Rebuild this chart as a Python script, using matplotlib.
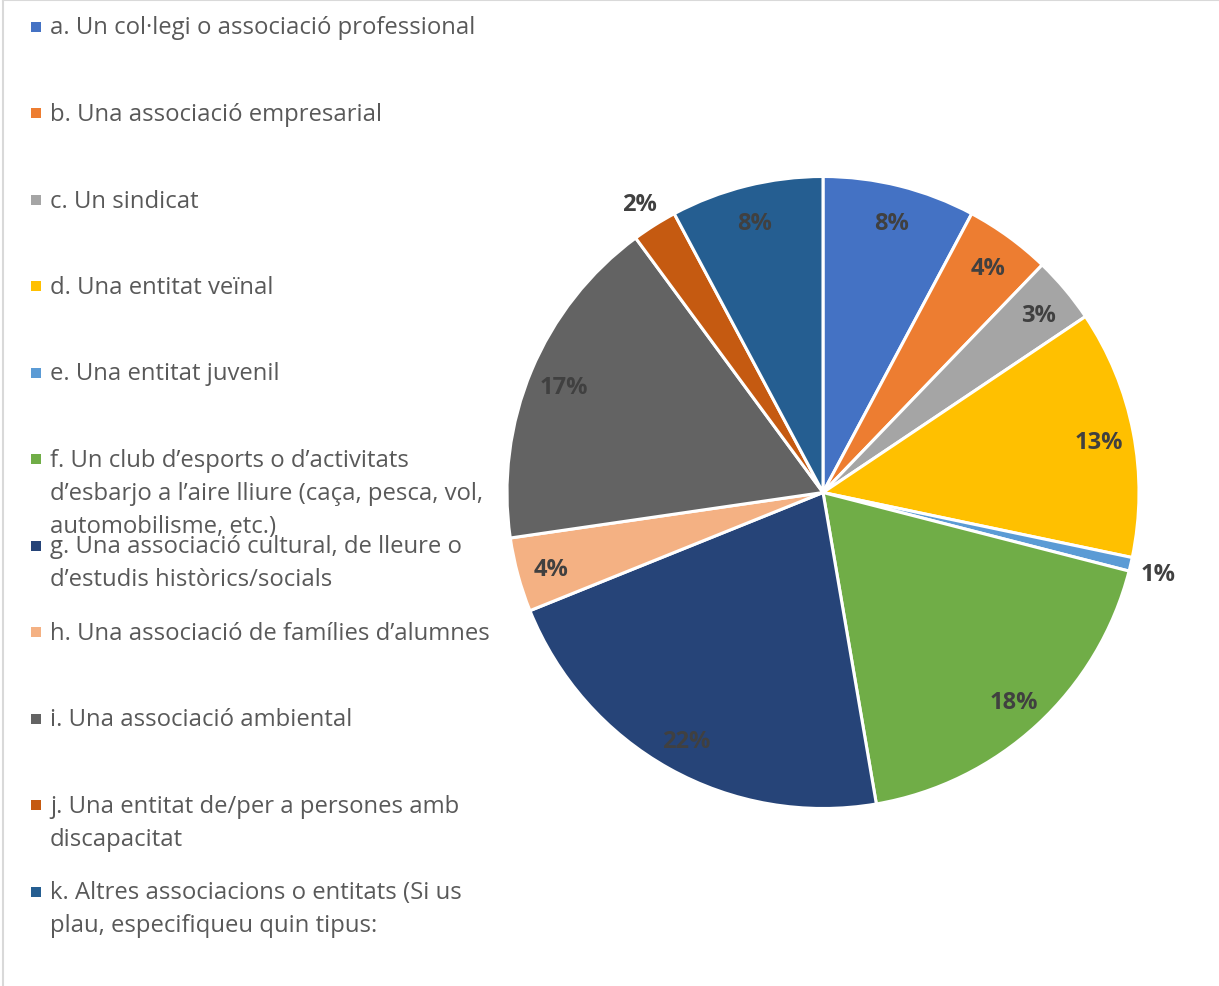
import numpy as np
import matplotlib
matplotlib.use('Agg')
import matplotlib.pyplot as plt
from matplotlib.patches import Rectangle
from matplotlib.lines import Line2D

plt.rcParams['font.family'] = ['Open Sans', 'DejaVu Sans']

# share of respondents per type of association (%)
labels = [
    'a. Un col·legi o associació professional',
    'b. Una associació empresarial',
    'c. Un sindicat',
    'd. Una entitat veïnal',
    'e. Una entitat juvenil',
    'f. Un club d’esports o d’activitats\nd’esbarjo a l’aire lliure (caça, pesca, vol,\nautomobilisme, etc.)',
    'g. Una associació cultural, de lleure o\nd’estudis històrics/socials',
    'h. Una associació de famílies d’alumnes',
    'i. Una associació ambiental',
    'j. Una entitat de/per a persones amb\ndiscapacitat',
    'k. Altres associacions o entitats (Si us\nplau, especifiqueu quin tipus:',
]
values = [7.8, 4.4, 3.4, 12.7, 0.7, 18.3, 21.6, 3.8, 17.2, 2.3, 7.8]
colors = ['#4472C4', '#ED7D31', '#A5A5A5', '#FFC000', '#5B9BD5', '#70AD47',
          '#264478', '#F4B183', '#636363', '#C55A11', '#255E91']
outside = [4, 9]  # slices whose label sits outside the pie

W, H = 1219, 987
fig = plt.figure(figsize=(W / 100, H / 100), dpi=100)

# pie axes: center (823, 493.5) px, radius 316 px
cx, cy, r = 823, 493.5, 316
ax = fig.add_axes([(cx - r) / W, (H - cy - r) / H, 2 * r / W, 2 * r / H])
wedges, _, autotexts = ax.pie(
    values, colors=colors, startangle=90, counterclock=False,
    autopct='%.0f%%', pctdistance=0.89,
    wedgeprops=dict(edgecolor='white', linewidth=2.2),
    textprops=dict(color='#404040', fontsize=17, fontweight='bold'))
for t in autotexts:
    t.set_va('center_baseline')
for i in outside:
    w = wedges[i]
    ang = np.deg2rad((w.theta1 + w.theta2) / 2)
    autotexts[i].set_position((1.09 * np.cos(ang), 1.09 * np.sin(ang)))
ax.set_xlim(-1, 1)
ax.set_ylim(-1, 1)
ax.axis('off')

# legend drawn by hand, Excel style
step = 86.5
for i, (lab, col) in enumerate(zip(labels, colors)):
    y0 = 28.5 + step * i
    fig.add_artist(Rectangle((31 / W, 1 - (y0 + 4) / H), 10 / W, 10 / H,
                             transform=fig.transFigure, color=col, lw=0))
    for j, line in enumerate(lab.split('\n')):
        y = y0 + 33 * j
        fig.text(50 / W, 1 - y / H, line, fontsize=17.2, color='#595959',
                 va='center', ha='left')

# chart-area border
fig.add_artist(Line2D([3 / W, 3 / W], [0, 1 - 1 / H], color='#D9D9D9', lw=1.5))
fig.add_artist(Line2D([3 / W, 1], [1 - 1 / H, 1 - 1 / H], color='#D9D9D9', lw=1.5))

fig.savefig('out.png', dpi=100)
